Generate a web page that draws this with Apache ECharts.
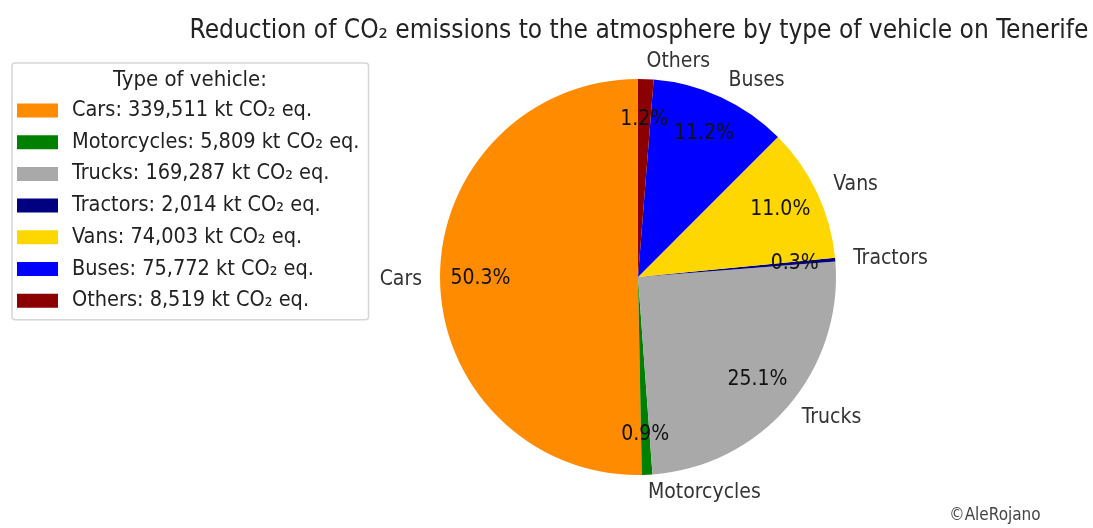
<!DOCTYPE html>
<html>
<head>
<meta charset="utf-8">
<script src="https://cdn.jsdelivr.net/npm/echarts@6/dist/echarts.min.js"></script>
<style>
html,body{margin:0;padding:0;background:#fff;}
#chart{width:1093px;height:528px;}
</style>
</head>
<body>
<div id="chart"></div>
<script>
const categories = ["Cars", "Motorcycles", "Trucks", "Tractors", "Vans", "Buses", "Others"];
const values = [339511, 5809, 169287, 2014, 74003, 75772, 8519];
const pctLabels = ["50.3%", "0.9%", "25.1%", "0.3%", "11.0%", "11.2%", "1.2%"];
const colors = ["#FF8C00", "#008000", "#A9A9A9", "#000080", "#FFD700", "#0000FF", "#8B0000"];

const FONT = '"DejaVu Sans Condensed", "Liberation Sans Narrow", "DejaVu Sans", sans-serif';
const CX = 638, CY = 277, R = 198;

function fmt(v) { return String(v).replace(/\B(?=(\d{3})+(?!\d))/g, ","); }

const chart = echarts.init(document.getElementById('chart'), null, {renderer: 'canvas'});

const dataMain = categories.map((c, i) => ({name: c, value: values[i], itemStyle: {color: colors[i]}}));
const dataPct = categories.map((c, i) => ({name: c, value: values[i], itemStyle: {color: 'rgba(0,0,0,0)'}}));

chart.setOption({
  animation: false,
  backgroundColor: '#ffffff',
  graphic: [
    {type: 'text', x: 639, y: 31, style: {text: 'Reduction of CO\u2082 emissions to the atmosphere by type of vehicle on Tenerife', font: '26px ' + FONT, fill: '#222', align: 'center', verticalAlign: 'middle'}},
    {type: 'text', x: 190, y: 80, style: {text: 'Type of vehicle:', font: '22px ' + FONT, fill: '#222', align: 'center', verticalAlign: 'middle'}},
    {type: 'text', x: 995, y: 516, style: {text: '\u00A9AleRojano', font: '17px ' + FONT, fill: '#444', align: 'center', verticalAlign: 'middle'}}
  ],
  legend: {
    orient: 'vertical',
    left: 12,
    top: 63,
    padding: [36.5, 9, 8, 5],
    borderColor: '#d6d6d6',
    borderWidth: 1.5,
    borderRadius: 3,
    itemWidth: 41,
    itemHeight: 14,
    itemGap: 9.7,
    selectedMode: false,
    data: categories.map((c, i) => ({name: c, icon: 'rect', itemStyle: {color: colors[i]}})),
    formatter: function (name) {
      const i = categories.indexOf(name);
      return name + ': ' + fmt(values[i]) + ' kt CO\u2082 eq.';
    },
    textStyle: {fontFamily: FONT, fontSize: 21.5, color: '#222', padding: [0, 0, 0, 9]}
  },
  series: [
    {
      type: 'pie',
      center: [CX, CY],
      radius: [0, R],
      startAngle: 90,
      clockwise: false,
      avoidLabelOverlap: false,
      silent: true,
      itemStyle: {borderWidth: 0},
      label: {
        show: true,
        position: 'outside',
        formatter: '{b}',
        fontFamily: FONT,
        fontSize: 21,
        color: '#333',
        distanceToLabelLine: 0
      },
      labelLine: {show: false, length: 18, length2: 0},
      data: dataMain
    },
    {
      type: 'pie',
      center: [CX, CY],
      radius: [R * 0.56, R],
      startAngle: 90,
      clockwise: false,
      avoidLabelOverlap: false,
      silent: true,
      itemStyle: {borderWidth: 0},
      label: {
        show: true,
        position: 'inside',
        formatter: function (p) { return pctLabels[p.dataIndex]; },
        fontFamily: FONT,
        fontSize: 21,
        color: '#111'
      },
      labelLine: {show: false},
      data: dataPct
    }
  ]
});
</script>
</body>
</html>
